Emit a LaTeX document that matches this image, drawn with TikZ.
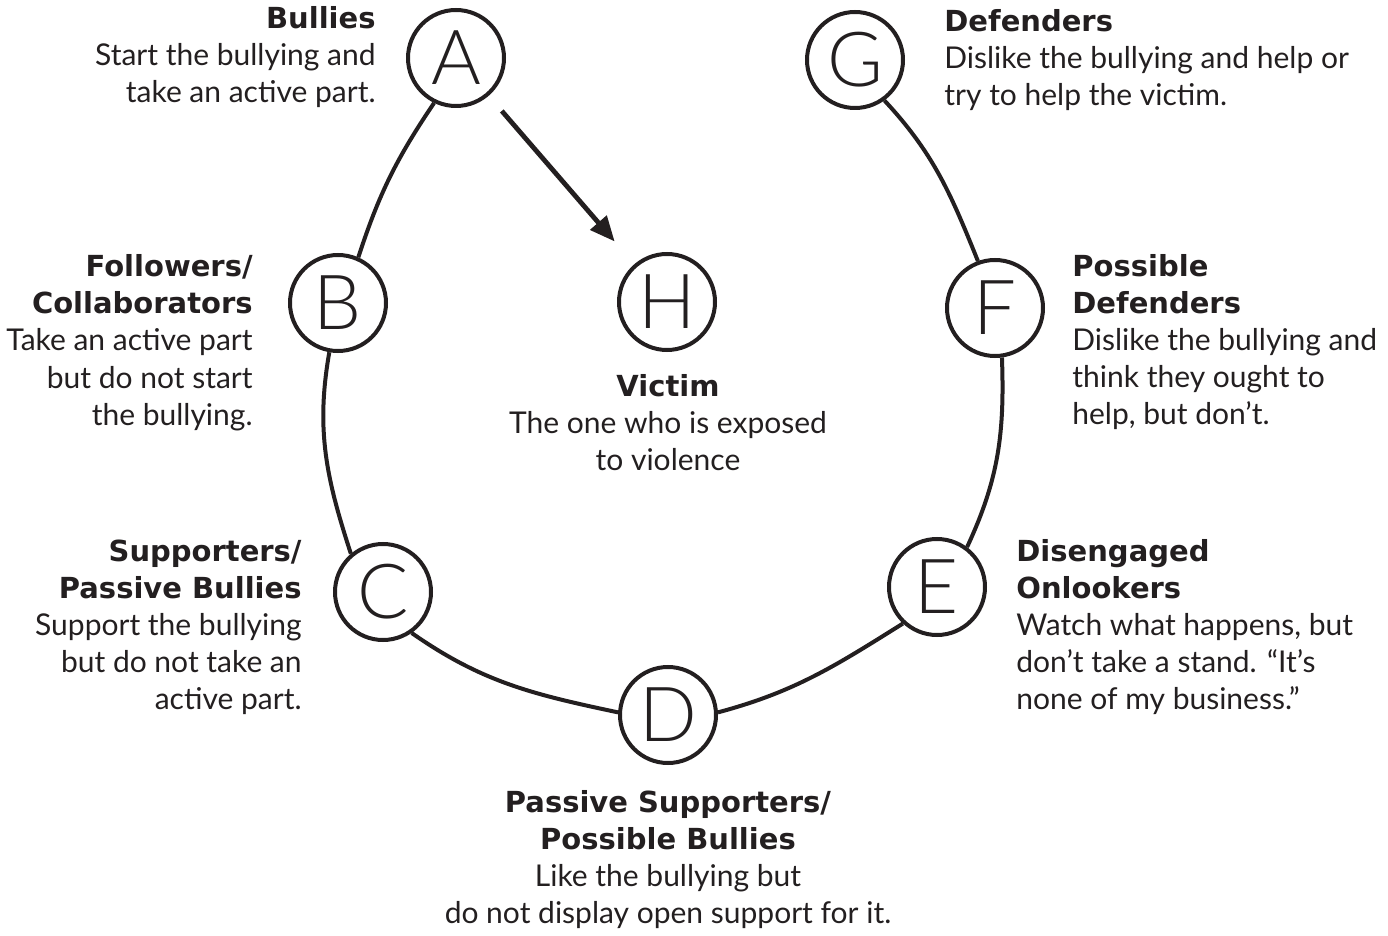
\documentclass[tikz,border=0pt]{standalone}
\usepackage{fontspec}
\setmainfont{Lato}
\newfontfamily\headfont{DejaVu Sans}
\newfontfamily\letterfont{Lato Light}
\usetikzlibrary{arrows.meta}
\definecolor{inkblack}{RGB}{35,31,32}
\newcommand{\rolename}[1]{{\headfont\bfseries\fontsize{14.5pt}{18.5pt}\selectfont #1}}

\begin{document}
\begin{tikzpicture}[x=0.5pt, y=0.5pt, inkblack,
  person/.style={circle, draw=inkblack, line width=2pt, minimum size=48pt, inner sep=0pt, font=\letterfont\fontsize{38pt}{38pt}\selectfont},
  desc/.style={inner sep=0pt, font=\fontsize{15pt}{18.5pt}\selectfont},
  link/.style={draw=inkblack, line width=2pt},
  arrow/.style={draw=inkblack, line width=2.4pt, -{Triangle[length=12.5pt, width=10.5pt]}, shorten <=10pt, shorten >=15pt}]

  \useasboundingbox (0,0) rectangle (1388,-936);

  \node [person] (A) at (456,-58) {A};
  \node [person] (B) at (338,-303) {B};
  \node [person] (C) at (383,-592) {C};
  \node [person] (D) at (668,-715) {D};
  \node [person] (E) at (937,-587) {E};
  \node [person] (F) at (995,-308) {F};
  \node [person] (G) at (855,-60) {G};
  \node [person] (H) at (667,-302) {H};

  \node [desc, align=right, anchor=base east] (bullies) at (376,-103) {\rolename{Bullies}\\Start the bullying and\\take an active part.};
  \node [desc, align=right, anchor=base east] (followers) at (253,-425) {\rolename{Followers/}\\\rolename{Collaborators}\\Take an active part\\but do not start\\the bullying.};
  \node [desc, align=right, anchor=base east] (supporters) at (302,-709) {\rolename{Supporters/}\\\rolename{Passive Bullies}\\Support the bullying\\but do not take an\\active part.};
  \node [desc, align=center, anchor=base] (passive) at (668,-923) {\rolename{Passive Supporters/}\\\rolename{Possible Bullies}\\Like the bullying but\\do not display open support for it.};
  \node [desc, align=left, anchor=base west] (onlookers) at (1016,-709) {\rolename{Disengaged}\\\rolename{Onlookers}\\Watch what happens, but\\don’t take a stand. “It’s\\none of my business.”};
  \node [desc, align=left, anchor=base west] (possible) at (1072,-424) {\rolename{Possible}\\\rolename{Defenders}\\Dislike the bullying and\\think they ought to\\help, but don’t.};
  \node [desc, align=left, anchor=base west] (defenders) at (944,-106) {\rolename{Defenders}\\Dislike the bullying and help or\\try to help the victim.};
  \node [desc, align=center, anchor=base] (victim) at (668,-471) {\rolename{Victim}\\The one who is exposed\\to violence};

  \draw [link] (A.244) to[out=-124, in=72] (B.66);
  \draw [link] (B.-100) to[out=-100, in=108] (C.130);
  \draw [link] (C.-55) to[out=-35, in=168] (D.177);
  \draw [link] (D.3) to[out=15, in=212] (E.227);
  \draw [link] (E.53) to[out=65, in=-88] (F.-82);
  \draw [link] (F.110) to[out=112, in=-47] (G.-54);
  \draw [arrow] (A) -- (H);
\end{tikzpicture}
\end{document}
